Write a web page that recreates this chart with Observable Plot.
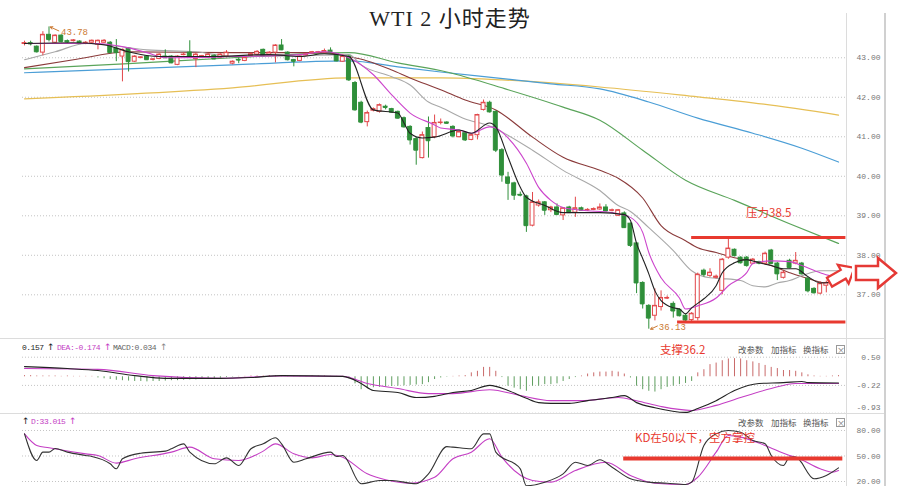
<!DOCTYPE html>
<html><head><meta charset="utf-8">
<script src="https://cdn.jsdelivr.net/npm/d3@7"></script>
<script src="https://cdn.jsdelivr.net/npm/@observablehq/plot@0.6"></script>
<style>
body{margin:0;background:#fff;}
#wrap{position:relative;width:900px;height:486px;overflow:hidden;background:#fff;font-family:"Noto Sans CJK SC",sans-serif;}
#wrap svg{position:absolute;left:0;}
</style></head><body><div id="wrap"></div><script>
// ---------- DATA ----------
const opens = [43.35,43.37,43.28,43.13,43.58,43.38,43.56,43.42,43.42,43.41, 43.36,43.38,43.33,43.38,43.38,43.23,43.03,43.23,42.90,43.00, 43.03,42.95,42.97,43.03,43.03,42.82,43.07,43.13,42.97,43.03, 43.00,43.05,43.00,43.03,42.85,42.95,42.92,43.05,43.08,43.20, 43.08,43.13,43.31,43.13,42.94,42.92,43.06,43.11,43.13,43.13, 43.18,43.08,42.90,43.03,42.36,41.86,41.37,41.66,41.63,41.76, 41.70,41.63,41.47,41.25,40.94,40.46,41.22,40.99,41.35,41.36, 41.25,40.99,41.09,40.92,41.04,41.68,41.86,41.63,40.66,39.97, 39.82,39.53,39.49,38.75,39.26,39.34,39.14,39.21,39.01,39.21, 39.08,39.19,39.14,39.15,39.16,39.21,39.13,39.00,39.06,38.80, 38.30,37.30,36.72,36.47,36.69,36.91,36.77,36.62,36.47,36.36, 36.41,37.61,37.48,37.43,37.10,37.94,38.14,37.94,37.94,37.79, 37.83,37.79,38.12,37.79,37.43,37.86,37.79,37.79,37.41,37.15, 37.03,37.23,37.30,37.48];
const highs = [43.42,43.42,43.30,43.66,43.78,43.58,43.58,43.45,43.46,43.43, 43.41,43.45,43.45,43.46,43.41,43.46,43.22,43.25,43.05,43.02, 43.05,42.98,43.10,43.20,43.05,43.05,43.12,43.43,43.12,43.06, 43.10,43.07,43.10,43.18,42.92,43.00,43.02,43.12,43.18,43.22, 43.15,43.33,43.46,43.15,42.96,43.05,43.11,43.16,43.16,43.22, 43.25,43.10,43.08,43.06,42.40,41.90,41.65,41.73,41.83,41.80, 41.72,41.65,41.50,41.28,40.98,41.12,41.50,41.55,41.45,41.38, 41.28,41.15,41.12,41.06,41.57,41.93,41.90,41.65,40.70,40.10, 39.85,39.60,39.52,39.59,39.40,39.36,39.24,39.30,39.21,39.24, 39.47,39.22,39.18,39.20,39.30,39.28,39.17,39.16,39.10,38.82, 38.32,37.33,36.75,37.15,37.10,36.97,36.82,36.65,36.50,36.55, 37.55,37.65,37.66,37.50,37.92,38.42,38.16,37.96,37.97,37.92, 37.85,38.08,38.15,37.82,37.60,37.90,38.07,37.82,37.45,37.18, 37.33,37.35,37.42,37.52];
const lows = [43.30,43.30,43.12,43.05,43.40,43.36,43.38,43.37,43.40,43.34, 43.33,43.36,43.20,43.36,43.10,42.90,42.39,42.64,42.88,42.97, 42.93,42.92,42.95,42.98,42.85,42.80,43.05,43.00,42.75,43.00, 42.98,42.95,42.98,43.00,42.82,42.85,42.90,43.03,43.05,43.03, 43.05,42.87,43.18,42.92,42.77,42.90,43.04,43.09,43.10,43.11, 43.10,42.90,42.88,42.40,41.65,41.33,41.25,41.63,41.60,41.68, 41.60,41.45,41.22,40.79,40.28,40.44,40.46,40.95,41.30,41.32, 40.97,40.97,40.88,40.90,40.92,41.65,41.60,40.60,39.85,39.39, 39.39,39.48,38.58,38.72,39.22,39.01,39.08,39.01,38.88,39.06, 38.96,39.12,39.11,39.13,39.14,39.10,39.10,38.98,38.68,38.20, 37.03,36.64,36.13,36.34,36.59,36.88,36.41,36.44,36.30,36.30, 36.34,37.45,37.44,37.40,37.00,37.90,37.96,37.78,37.70,37.76, 37.76,37.76,37.76,37.36,37.40,37.66,37.76,37.50,37.05,37.02, 37.00,37.05,37.28,37.40];
const closes = [43.37,43.35,43.15,43.58,43.46,43.56,43.41,43.40,43.44,43.36, 43.38,43.43,43.43,43.43,43.13,43.13,43.20,42.90,43.03,43.01, 42.95,42.96,43.08,43.00,42.87,43.03,43.08,43.03,43.08,43.04, 43.08,42.97,43.08,43.13,42.90,42.94,43.00,43.09,43.15,43.05, 43.13,43.31,43.20,42.95,42.91,43.03,43.09,43.14,43.14,43.17, 43.13,42.92,43.03,42.44,41.68,41.37,41.60,41.70,41.80,41.74, 41.62,41.47,41.25,40.92,40.66,41.04,40.90,41.35,41.36,41.34, 41.02,41.12,40.92,41.04,41.55,41.86,41.63,40.66,40.03,39.82, 39.52,39.52,38.75,39.34,39.34,39.14,39.21,39.03,39.19,39.08, 39.19,39.14,39.15,39.17,39.21,39.12,39.14,39.14,38.70,38.25, 37.30,36.77,36.41,36.72,36.92,36.92,36.59,36.47,36.36,36.52, 37.51,37.51,37.56,37.46,37.89,38.17,37.99,37.81,37.74,37.89, 37.80,38.04,37.79,37.53,37.56,37.69,37.86,37.53,37.10,37.05, 37.28,37.30,37.38,37.43];

// moving averages: [bar index, price]
const ma5 = [[0,43.36],[8,43.38],[13,43.33],[17,43.15],[22,43.03],[30,43.03],[40,43.08],[45,43.03],[49,43.10],[53,43.03],[57,41.68],[61,41.60],[62,41.35],[63,41.09],[65,40.97],[67,40.99],[71,41.17],[73,41.09],[76,41.35],[77,41.25],[79,40.48],[81,39.72],[82,39.47],[85,39.26],[88,39.08],[94,39.08],[98,39.03],[99,38.88],[100,38.30],[101,37.92],[102,37.53],[103,37.10],[104,36.85],[106,36.67],[107,36.64],[108,36.52],[109,36.67],[111,36.90],[113,37.23],[114,37.56],[116,37.81],[118,37.89],[120,37.81],[122,37.74],[124,37.66],[126,37.66],[128,37.46],[130,37.30],[132,37.33],[133,37.41]];
const ma10 = [[0,43.36],[12,43.36],[14,43.33],[17,43.25],[20,43.13],[23,43.00],[34,43.03],[45,43.08],[49,43.15],[53,43.00],[57,42.57],[60,42.06],[63,41.60],[67,41.30],[68,41.22],[71,41.17],[73,41.09],[76,41.25],[77,41.22],[79,40.97],[82,40.33],[84,39.72],[86,39.39],[88,39.21],[91,39.14],[96,39.08],[99,38.96],[101,38.58],[102,38.07],[104,37.43],[107,36.92],[108,36.64],[110,36.72],[113,36.92],[115,37.23],[118,37.56],[119,37.79],[122,37.86],[125,37.84],[127,37.74],[130,37.56],[132,37.48],[133,37.53]];
const ma20 = [[0,42.95],[5,43.15],[10,43.36],[14,43.31],[20,43.20],[28,43.15],[34,43.03],[45,43.05],[53,43.08],[55,42.82],[60,42.52],[63,42.31],[66,41.88],[68,41.75],[72,41.45],[76,41.27],[78,41.12],[83,40.66],[88,40.15],[94,39.64],[97,39.26],[99,39.11],[102,38.70],[106,38.12],[109,37.61],[112,37.43],[114,37.41],[117,37.36],[119,37.23],[121,37.20],[123,37.30],[125,37.36],[127,37.48],[130,37.61],[133,37.61]];
const ma30 = [[0,42.75],[8,42.95],[17,43.15],[34,43.13],[49,43.13],[53,43.03],[56,42.92],[60,42.69],[63,42.49],[68,42.19],[72,41.93],[77,41.68],[83,40.99],[88,40.48],[94,40.15],[97,39.95],[101,39.45],[104,38.75],[108,38.37],[110,38.19],[113,38.07],[116,37.94],[121,37.79],[125,37.56],[128,37.41],[131,37.30],[133,37.36]];
const ma60 = [[0,42.72],[17,42.85],[34,43.00],[53,43.13],[61,42.87],[69,42.64],[79,42.19],[88,41.75],[94,41.42],[101,40.66],[108,39.90],[116,39.39],[125,38.80],[133,38.30]];
const ma120 = [[0,42.62],[34,42.82],[53,42.92],[61,42.77],[68,42.64],[77,42.49],[86,42.34],[94,42.21],[102,41.88],[110,41.47],[119,41.09],[127,40.71],[133,40.36]];
const ma250 = [[0,41.96],[34,42.24],[53,42.49],[68,42.49],[78,42.44],[94,42.26],[110,42.01],[119,41.86],[133,41.55]];

const priceTicks = [37,38,39,40,41,42,43];
const resistance = [{level:38.45, from:109, to:134.2, label:"压力38.5"}];
const support = [{level:36.31, from:106.7, to:134.2}];

// MACD
const macdHist = [0.03,0.03,0.02,0.02,0.02,0.02,0.01,0.02,0.01,0.01, 0.01,0.01,-0.03,-0.05,-0.07,-0.09,-0.10,-0.11,-0.12,-0.12, -0.13,-0.12,-0.12,-0.11,-0.10,-0.10,-0.09,-0.08,-0.08,-0.07, -0.06,-0.05,-0.04,-0.02,-0.01,0.01,0.01,0.02,0.02,0.02, 0.03,0.03,0.02,0.01,0.01,0.01,0.01,0.02,0.02,0.02, 0.01,0.01,0.01,-0.05,-0.18,-0.33,-0.29,-0.28,-0.27,-0.26, -0.25,-0.24,-0.23,-0.22,-0.21,-0.20,-0.15,-0.07,-0.03,-0.01, 0.01,0.02,0.03,0.10,0.14,0.24,0.24,0.14,-0.02,-0.24, -0.29,-0.33,-0.37,-0.24,-0.24,-0.20,-0.20,-0.18,-0.12,-0.07, -0.02,0.02,0.07,0.10,0.12,0.12,0.14,0.12,0.07,-0.03, -0.24,-0.33,-0.37,-0.39,-0.33,-0.27,-0.24,-0.20,-0.17,-0.12, 0.10,0.18,0.31,0.35,0.41,0.455,0.464,0.455,0.41,0.38, 0.34,0.29,0.24,0.21,0.16,0.16,0.14,0.10,0.05,0.02, 0.01,0.01,0.02,0.03];
const dif = [[0,0.26],[7,0.21],[12,0.16],[18,0.03],[23,-0.04],[32,-0.04],[37,-0.02],[42,0.03],[52,0.01],[55,-0.17],[57,-0.35],[61,-0.40],[64,-0.53],[67,-0.50],[70,-0.40],[73,-0.35],[76,-0.22],[79,-0.35],[82,-0.55],[84,-0.66],[86,-0.68],[89,-0.68],[92,-0.61],[96,-0.53],[98,-0.48],[100,-0.66],[103,-0.79],[108,-0.91],[110,-0.81],[113,-0.61],[116,-0.35],[120,-0.17],[124,-0.15],[127,-0.12],[128,-0.15],[133,-0.16]];
const dea = [[0,0.21],[12,0.19],[21,0.03],[32,-0.04],[42,0.02],[52,0.01],[56,-0.17],[61,-0.30],[66,-0.43],[70,-0.43],[76,-0.33],[81,-0.48],[86,-0.61],[91,-0.61],[97,-0.53],[100,-0.61],[104,-0.76],[109,-0.86],[113,-0.73],[117,-0.53],[122,-0.30],[126,-0.17],[130,-0.17],[133,-0.17]];
const macdTicks = [0.5,-0.22,-0.93];

// KD
const kLine = [[0,76],[2,44.7],[3,54.5],[4,54.5],[5,58.8],[7,54.5],[10,50.6],[11,49.4],[14,40.8],[15,34.9],[16,46.7],[19,53.3],[23,55.7],[24,58.5],[26,64.3],[27,54.5],[31,40.8],[33,47.8],[35,38.8],[37,58.5],[39,64.3],[41,71.4],[42,64.3],[44,42.7],[46,46.7],[50,54.5],[51,49.4],[52,50.6],[55,17.3],[58,21.2],[60,21.2],[64,17.3],[66,29],[69,61],[70,60.4],[73,58.5],[75,76],[76,76],[77,54.5],[81,34.9],[82,15],[85,19.2],[88,29],[90,42.7],[92,38.8],[94,45.5],[96,36.8],[99,23.2],[102,19.2],[105,18],[108,16.5],[109,19.2],[111,62.4],[113,76],[115,80],[117,78],[119,68.2],[121,64.3],[122,50.6],[124,38.8],[125,48.6],[126,48.6],[129,23.2],[131,27.1],[133,36]];
const dLine = [[0,76],[2,62.4],[4,59.6],[10,52.5],[12,50.6],[15,41.6],[18,46.7],[24,54.5],[27,60.4],[31,46.7],[35,44.7],[39,55.7],[41,64.3],[44,52.5],[47,47.8],[50,51.8],[52,48.6],[56,29],[59,22],[63,18],[67,25],[70,46.7],[73,54.5],[76,70.2],[78,48.6],[83,21.2],[86,19.2],[90,32.9],[95,42.7],[99,27.1],[103,18],[108,16.5],[110,25],[113,54.5],[115,74.1],[117,72.2],[121,62.4],[125,50.6],[126,48.6],[130,34.9],[132,31],[133,32.9]];
const kdTicks = [80,50,20];
const kdLevel = [{level:47, from:97.9, to:133.7}];

// ---------- DRAW ----------
const wrap = document.getElementById("wrap");
const W = 900;
const XD = [-0.33, 134.3];
const RED = "#e2474a", GREEN = "#2f8f3a", ANN = "#e8392f";
const axisFont = {background:"transparent", fontFamily:"'Liberation Mono', monospace", fontSize:"8px", color:"#777"};
const fmt = d => d.toFixed(2);
const P = (arr, stroke, w=1) => Plot.line(arr, {x:d=>d[0], y:d=>d[1], stroke, strokeWidth:w, curve:"monotone-x"});

const candles = opens.map((o,i)=>({i, o, h:highs[i], l:lows[i], c:closes[i]}));
const isUp = d => d.c >= d.o;
const iLow = d3.minIndex(lows), iHigh = d3.maxIndex(highs);
const lowPt = [{i:iLow, v:lows[iLow]}], highPt = [{i:iHigh, v:highs[iHigh]}];

const main = Plot.plot({
  width:W, height:338, marginLeft:22, marginRight:54, marginTop:13, marginBottom:3,
  x:{domain:XD, axis:null}, y:{domain:[35.97,44.12], axis:null},
  color:{type:"identity"}, style:axisFont,
  marks:[
    Plot.gridY(priceTicks, {stroke:"#c4c4c4", strokeOpacity:1, strokeDasharray:"1,2"}),
    Plot.axisY(priceTicks, {anchor:"right", tickSize:0, tickPadding:34, textAnchor:"end", tickFormat:fmt, label:null}),
    P(ma250, "#e6bf55", 1.2), P(ma120, "#4b9ed6", 1.2), P(ma60, "#5aa45a", 1.2),
    P(ma30, "#8a3a3a", 1.1), P(ma20, "#a8a8a8", 1.1),
    Plot.ruleX(candles, {x:"i", y1:"l", y2:"h", stroke:d=>isUp(d)?RED:GREEN, strokeWidth:1}),
    Plot.rect(candles, {x1:d=>d.i-0.32, x2:d=>d.i+0.32, y1:"o", y2:"c", fill:d=>isUp(d)?"#fff":GREEN, stroke:d=>isUp(d)?RED:GREEN, strokeWidth:1}),
    Plot.ruleY(candles, {x1:d=>d.i-0.32, x2:d=>d.i+0.32, y:"c", stroke:d=>isUp(d)?RED:GREEN, strokeWidth:1}),
    P(ma10, "#cc45cc", 1.1), P(ma5, "#222", 1.1),
    Plot.ruleY(resistance, {y:"level", x1:"from", x2:"to", stroke:ANN, strokeWidth:3}),
    Plot.ruleY(support, {y:"level", x1:"from", x2:"to", stroke:ANN, strokeWidth:3}),
    Plot.text(resistance, {x:d=>(d.from+d.to)/2, y:"level", text:"label", dy:-24, fill:ANN, fontSize:11.5, fontFamily:"'Noto Sans CJK SC'"}),
    Plot.arrow(lowPt, {x1:d=>d.i+1.4, y1:d=>d.v+0.08, x2:d=>d.i+0.3, y2:"v", stroke:"#cc7a33", strokeWidth:1, headLength:4}),
    Plot.text(lowPt, {x:"i", y:"v", text:d=>d.v.toFixed(2), dx:10, dy:-2, textAnchor:"start", fill:"#cc7a33", fontSize:9, fontFamily:"'Liberation Mono'"}),
    Plot.arrow(highPt, {x1:d=>d.i+1.6, y1:d=>d.v-0.1, x2:d=>d.i+0.2, y2:"v", stroke:"#cc7a33", strokeWidth:1, headLength:4}),
    Plot.text(highPt, {x:"i", y:"v", text:d=>d.v.toFixed(2), dx:12, dy:5, textAnchor:"start", fill:"#cc7a33", fontSize:9, fontFamily:"'Liberation Mono'"})
  ]
});
main.style.top = "0px"; wrap.appendChild(main);

const histData = macdHist.map((v,i)=>({i,v}));
const macd = Plot.plot({
  width:W, height:75, marginLeft:22, marginRight:54, marginTop:1, marginBottom:0,
  x:{domain:XD, axis:null}, y:{domain:[-0.9377,0.952], axis:null},
  color:{type:"identity"}, style:axisFont,
  marks:[
    Plot.gridY(macdTicks, {stroke:"#c4c4c4", strokeOpacity:1, strokeDasharray:"1,2"}),
    Plot.axisY(macdTicks.slice(0,2), {anchor:"right", tickSize:0, tickPadding:34, textAnchor:"end", tickFormat:fmt, label:null}),
    Plot.axisY(macdTicks.slice(2), {anchor:"right", tickSize:0, tickPadding:34, textAnchor:"end", tickFormat:fmt, label:null, dy:-6}),
    Plot.ruleX(histData, {x:"i", y1:0, y2:"v", stroke:d=>d.v>=0?"#c96a6a":"#5f9e5f", strokeWidth:1}),
    P(dea, "#c43ec4", 1.1), P(dif, "#222", 1.1)
  ]
});
macd.style.top = "338px"; wrap.appendChild(macd);

const kd = Plot.plot({
  width:W, height:73, marginLeft:22, marginRight:54, marginTop:1, marginBottom:0,
  x:{domain:XD, axis:null}, y:{domain:[14.1,98.8], axis:null},
  color:{type:"identity"}, style:axisFont, clip:true,
  marks:[
    Plot.gridY(kdTicks, {stroke:"#c4c4c4", strokeOpacity:1, strokeDasharray:"1,2"}),
    Plot.axisY(kdTicks, {anchor:"right", tickSize:0, tickPadding:34, textAnchor:"end", tickFormat:fmt, label:null}),
    P(dLine, "#c43ec4", 1.1), P(kLine, "#333", 1.1),
    Plot.ruleY(kdLevel, {y:"level", x1:"from", x2:"to", stroke:ANN, strokeWidth:4})
  ]
});
kd.style.top = "413px"; wrap.appendChild(kd);

// frame lines
function box(l,t,w,h,bg){const d=document.createElement("div");Object.assign(d.style,{position:"absolute",left:l+"px",top:t+"px",width:w+"px",height:h+"px",background:bg});wrap.appendChild(d);}
box(0,338,885,1,"#dcdcdc"); box(0,413,885,1,"#dcdcdc");
box(846,13,1,473,"#dcdcdc"); box(884,13,2,473,"#d0d0d0");

function txt(s,l,t,css){const d=document.createElement("div");d.textContent=s;Object.assign(d.style,{position:"absolute",left:l+"px",top:t+"px",whiteSpace:"nowrap",lineHeight:"1"},css);wrap.appendChild(d);return d;}
const ttl = txt("WTI 2 小时走势",0,8,{width:"900px",textAlign:"center",fontSize:"22px",color:"#222",fontFamily:"'Liberation Serif','Noto Sans CJK SC',serif",letterSpacing:"1px"});
const mono = {fontFamily:"'Liberation Mono',monospace",fontSize:"8px",letterSpacing:"-0.5px"};
const arrowF = {fontFamily:"'DejaVu Sans'",fontSize:"9px"};
txt("0.157",22,344,{...mono,color:"#222"}); txt("↑",47,343,{...arrowF,color:"#222"});
txt("DEA:-0.174",57,344,{...mono,color:"#c43ec4"}); txt("↑",104,343,{...arrowF,color:"#c43ec4"});
txt("MACD:0.034",113,344,{...mono,color:"#666"}); txt("↑",160,343,{...arrowF,color:"#888"});
txt("↑",22,417,{...arrowF,color:"#222"}); txt("D:33.015",31,418,{...mono,color:"#c43ec4"}); txt("↑",69,417,{...arrowF,color:"#c43ec4"});
const menu = {fontSize:"8.5px",color:"#555"};
[344.5,417.5].forEach(t=>{
  txt("改参数",738,t,menu); txt("加指标",771,t,menu); txt("换指标",803,t,menu);
  const b = txt("×",836,t,{fontSize:"8px",color:"#777",width:"7px",height:"7px",border:"1px solid #999",textAlign:"center",lineHeight:"7px"});
});
const annF = {fontSize:"11.5px",color:ANN};
txt("支撑36.2",660,344,annF);
txt("KD在50以下，空方掌控",635,432,annF);

// decorative block arrows
const ns="http://www.w3.org/2000/svg";
const ov=document.createElementNS(ns,"svg");
ov.setAttribute("width",900);ov.setAttribute("height",486);ov.style.top="0px";
const shape="M-20,-7 L2,-7 L2,-15 L20,0 L2,15 L2,7 L-20,7 Z";
ov.innerHTML=`<defs><clipPath id="cp"><rect x="0" y="0" width="852" height="486"/></clipPath></defs>
<path d="${shape}" transform="translate(876,273)" fill="#fff" stroke="#e53935" stroke-width="2.5" stroke-linejoin="miter"/>
<g clip-path="url(#cp)"><path d="${shape}" transform="translate(842,275) rotate(-30) scale(0.72)" fill="#fff" stroke="#e53935" stroke-width="3.2"/></g>`;
wrap.appendChild(ov);
</script></body></html>
